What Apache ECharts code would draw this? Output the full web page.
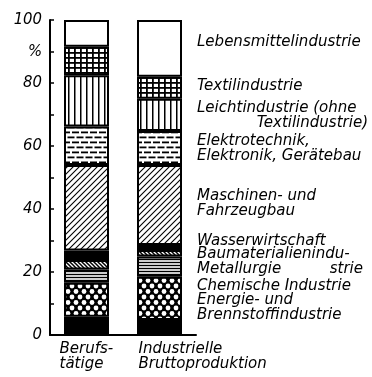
<!DOCTYPE html>
<html>
<head>
<meta charset="utf-8">
<script src="https://cdn.jsdelivr.net/npm/echarts@6/dist/echarts.min.js"></script>
<style>
  html, body { margin: 0; padding: 0; background: #fff; }
  #chart { width: 372px; height: 377px; }
</style>
</head>
<body>
<div id="chart"></div>
<script>
// Two columns: share of employees vs. share of gross industrial output (%)
const categories = ['Berufs-\ntätige', 'Industrielle\nBruttoproduktion'];

// Branches, stacked bottom to top
const branches = [
  'Energie- und Brennstoffindustrie',
  'Chemische Industrie',
  'Metallurgie',
  'Baumaterialienindustrie',
  'Wasserwirtschaft',
  'Maschinen- und Fahrzeugbau',
  'Elektrotechnik, Elektronik, Gerätebau',
  'Leichtindustrie (ohne Textilindustrie)',
  'Textilindustrie',
  'Lebensmittelindustrie'
];

// Percentages per branch: [Berufstätige, Industrielle Bruttoproduktion]
const employees  = [5.8, 10.8, 4.2, 3.0, 3.0, 27.2, 12.2, 16.3, 9.0, 8.5];
const production = [4.8, 13.7, 6.4, 2.1, 1.6, 25.4, 10.8, 10.2, 7.0, 18.0];

// Tick labels of the value axis (90 carries the unit sign)
const yTickLabels = { 0: '0', 20: '20', 40: '40', 60: '60', 80: '80', 90: '%', 100: '100' };

// Labels printed beside the right column
const branchLabels = [
  'Energie- und\nBrennstoffindustrie',
  'Chemische Industrie',
  'Metallurgie',
  'Baumaterialienindu-\n{r1|strie}',
  'Wasserwirtschaft',
  'Maschinen- und\nFahrzeugbau',
  'Elektrotechnik,\nElektronik, Gerätebau',
  'Leichtindustrie (ohne\n{r2|Textilindustrie)}',
  'Textilindustrie',
  'Lebensmittelindustrie'
];

// Vertical nudges of those labels away from their segment centres (px)
const labelNudge = [-20, -13, 2, 8, -7, -2, 0, 0, -2, -7];

const FONT = '"DejaVu Sans Condensed", "Liberation Sans Narrow", "DejaVu Sans", sans-serif';
const INK = '#000';

// Hatch fills drawn on small tiles
function tile(w, h, draw) {
  const c = document.createElement('canvas');
  c.width = w; c.height = h;
  const g = c.getContext('2d');
  g.fillStyle = '#fff';
  g.fillRect(0, 0, w, h);
  g.fillStyle = INK;
  g.strokeStyle = INK;
  draw(g, w, h);
  return { image: c, repeat: 'repeat' };
}

const fills = [
  INK,
  // white dots on black
  tile(8, 11, (g, w, h) => {
    g.fillRect(0, 0, w, h);
    g.fillStyle = '#fff';
    [[w / 2, h / 2], [0, 0], [w, 0], [0, h], [w, h]].forEach(([x, y]) => {
      g.beginPath(); g.arc(x, y, 2.4, 0, Math.PI * 2); g.fill();
    });
  }),
  // fine horizontal lines
  tile(4, 3, (g, w) => { g.fillRect(0, 0.8, w, 1.4); }),
  // dense back-diagonal
  tile(4, 4, (g, w, h) => {
    g.lineWidth = 1.5;
    g.beginPath();
    g.moveTo(-1, -1); g.lineTo(w + 1, h + 1);
    g.moveTo(-1, h - 1); g.lineTo(1, h + 1);
    g.moveTo(w - 1, -1); g.lineTo(w + 1, 1);
    g.stroke();
  }),
  INK,
  // wide forward diagonal
  tile(6, 6, (g, w, h) => {
    g.lineWidth = 1.1;
    g.beginPath();
    g.moveTo(-1, h + 1); g.lineTo(w + 1, -1);
    g.moveTo(-1, 1); g.lineTo(1, -1);
    g.moveTo(w - 1, h + 1); g.lineTo(w + 1, h - 1);
    g.stroke();
  }),
  // staggered dashes
  tile(18, 10, (g) => {
    g.fillRect(0, 1.5, 7, 1.8); g.fillRect(9, 1.5, 7, 1.8);
    g.fillRect(4.5, 6.5, 7, 1.8); g.fillRect(13.5, 6.5, 4.5, 1.8); g.fillRect(0, 6.5, 2.5, 1.8);
  }),
  // vertical lines
  tile(6, 4, (g, w, h) => { g.fillRect(2, 0, 1.5, h); }),
  // grid
  tile(6, 5, (g, w, h) => { g.fillRect(2, 0, 1.8, h); g.fillRect(0, 2, w, 1.8); }),
  '#fff'
];

const labelFont = {
  fontFamily: FONT, fontStyle: 'italic', fontSize: 16.7, color: INK
};

const series = branches.map((name, i) => ({
  name,
  type: 'bar',
  stack: 'total',
  barWidth: 45,
  itemStyle: { color: fills[i], borderColor: INK, borderWidth: 2 },
  data: [
    { value: employees[i], label: { show: false } },
    {
      value: production[i],
      label: {
        show: true,
        position: 'right',
        distance: 15,
        offset: [0, labelNudge[i]],
        formatter: branchLabels[i],
        ...labelFont,
        lineHeight: 15,
        align: 'left',
        rich: {
          r1: { ...labelFont, lineHeight: 15, width: 166, align: 'right' },
          r2: { ...labelFont, lineHeight: 15, width: 171, align: 'right' }
        }
      }
    }
  ]
}));

const chart = echarts.init(document.getElementById('chart'), null, { renderer: 'canvas' });
chart.setOption({
  animation: false,
  backgroundColor: '#fff',
  grid: { left: 50, top: 20, width: 146, height: 315 },
  xAxis: {
    type: 'category',
    data: categories,
    axisLine: { lineStyle: { color: INK, width: 2 } },
    axisTick: { show: false },
    axisLabel: {
      interval: 0,
      margin: 6,
      align: 'right',
      lineHeight: 15,
      formatter: (v, i) => v.split('\n').map(s => `{c${i}|${s}}`).join('\n'),
      rich: {
        c0: { ...labelFont, lineHeight: 15, width: 27, align: 'left' },
        c1: { ...labelFont, lineHeight: 15, width: 21, align: 'left' }
      }
    }
  },
  yAxis: {
    type: 'value',
    min: 0,
    max: 100,
    interval: 10,
    axisLine: { show: true, lineStyle: { color: INK, width: 2 } },
    axisTick: { show: true, inside: true, length: 4, lineStyle: { color: INK, width: 1.5 } },
    splitLine: { show: false },
    axisLabel: {
      margin: 8,
      ...labelFont,
      fontSize: 16.5,
      formatter: v => (yTickLabels[v] !== undefined ? yTickLabels[v] : '')
    }
  },
  series
});
</script>
</body>
</html>
